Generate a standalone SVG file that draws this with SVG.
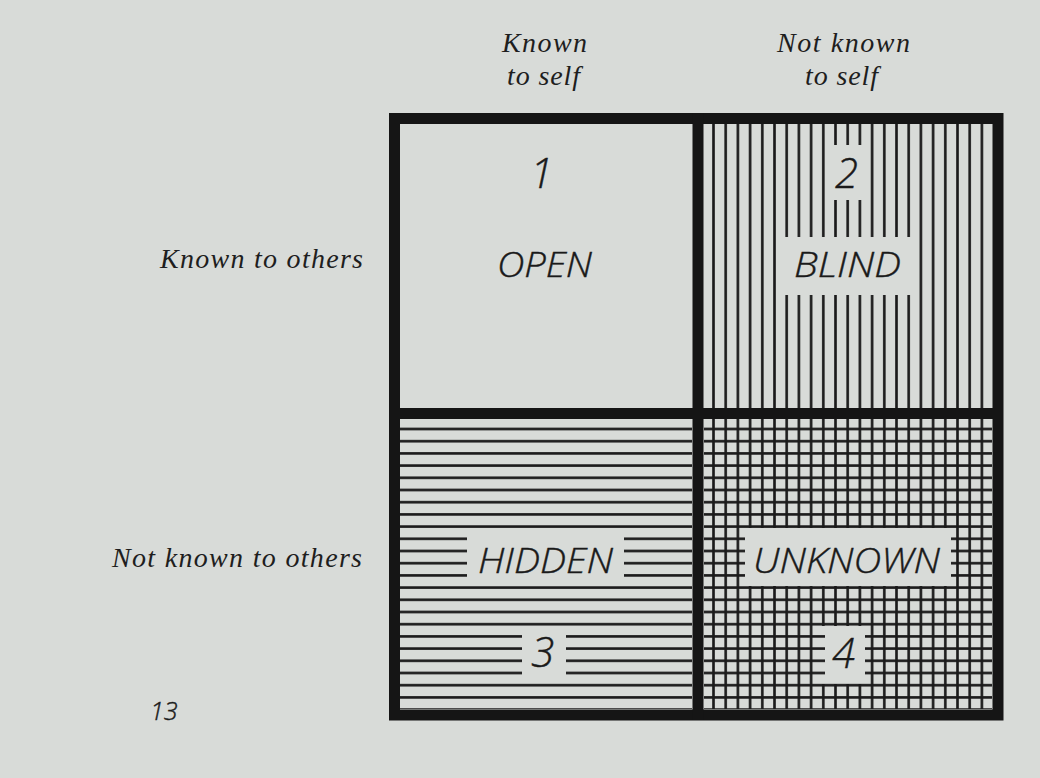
<svg xmlns="http://www.w3.org/2000/svg" width="1040" height="778" viewBox="0 0 1040 778">
  <style>
    .bg { fill: #d8dbd8; }
    .serif { font-family: "Liberation Serif", "Times New Roman", serif; font-style: italic; font-size: 28px; fill: #1e1e1e; }
    .sans { font-family: "Open Sans", "Liberation Sans", sans-serif; font-style: italic; font-weight: 300; fill: #1a1a1a; stroke: #1a1a1a; stroke-width: 0.4; }
    .word { font-size: 35px; }
    .digit { font-size: 42px; }
    .frame { fill: none; stroke: #151515; stroke-width: 11; }
    .div { stroke: #151515; stroke-width: 11; }
  </style>
  <defs>
    <pattern id="vlines" patternUnits="userSpaceOnUse" x="707.4" y="0" width="12.2" height="20">
      <rect x="4.8" y="0" width="2.6" height="20" fill="#1a1a1a"/>
    </pattern>
    <pattern id="hlines" patternUnits="userSpaceOnUse" x="0" y="422.9" width="20" height="12.2">
      <rect x="0" y="4.8" width="20" height="2.6" fill="#1a1a1a"/>
    </pattern>
  </defs>

  <rect class="bg" x="0" y="0" width="1040" height="778"/>

  <g id="col-headers">
    <text class="serif" x="502" y="52" textLength="85" lengthAdjust="spacing">Known</text>
    <text class="serif" x="507" y="85" textLength="73" lengthAdjust="spacing">to self</text>
    <text class="serif" x="777" y="52" textLength="133" lengthAdjust="spacing">Not known</text>
    <text class="serif" x="805" y="85" textLength="73" lengthAdjust="spacing">to self</text>
  </g>

  <g id="row-headers">
    <text class="serif" x="160" y="268" textLength="203" lengthAdjust="spacing">Known to others</text>
    <text class="serif" x="112" y="567" textLength="250" lengthAdjust="spacing">Not known to others</text>
  </g>

  <g id="open">
    <text class="sans digit" x="541.5" y="188" text-anchor="middle">1</text>
    <text class="sans word" x="544.5" y="277" text-anchor="middle" textLength="95" lengthAdjust="spacingAndGlyphs">OPEN</text>
  </g>

  <g id="blind">
    <rect x="704" y="124" width="288" height="284" fill="url(#vlines)"/>
    <rect class="bg" x="829" y="145" width="37" height="55"/>
    <rect class="bg" x="781" y="237" width="134" height="58"/>
    <text class="sans digit" x="846.5" y="188" text-anchor="middle">2</text>
    <text class="sans word" x="847.5" y="277" text-anchor="middle" textLength="107" lengthAdjust="spacingAndGlyphs">BLIND</text>
  </g>

  <g id="hidden">
    <rect x="400" y="419" width="292" height="290" fill="url(#hlines)"/>
    <rect class="bg" x="467" y="531" width="157" height="53"/>
    <rect class="bg" x="522" y="628" width="44" height="52"/>
    <text class="sans word" x="545.5" y="573" text-anchor="middle" textLength="135" lengthAdjust="spacingAndGlyphs">HIDDEN</text>
    <text class="sans digit" x="542.5" y="667" text-anchor="middle">3</text>
  </g>

  <g id="unknown">
    <rect x="704" y="419" width="288" height="290" fill="url(#vlines)"/>
    <rect class="bg" x="740" y="528" width="216" height="58"/>
    <rect class="bg" x="817" y="626" width="50" height="58"/>
    <rect x="704" y="419" width="288" height="290" fill="url(#hlines)"/>
    <rect class="bg" x="745" y="531" width="206" height="53"/>
    <rect class="bg" x="825" y="631" width="40" height="48"/>
    <text class="sans word" x="846.5" y="573" text-anchor="middle" textLength="187" lengthAdjust="spacingAndGlyphs">UNKNOWN</text>
    <text class="sans digit" x="843.5" y="668" text-anchor="middle">4</text>
  </g>

  <g id="frame">
    <rect class="frame" x="394.5" y="118.5" width="603.5" height="596.5"/>
    <line class="div" x1="698" y1="113" x2="698" y2="720"/>
    <line class="div" x1="389" y1="413.5" x2="1003" y2="413.5"/>
  </g>

  <g id="page-number">
    <text class="sans" x="150" y="720" font-size="25">13</text>
  </g>
</svg>
